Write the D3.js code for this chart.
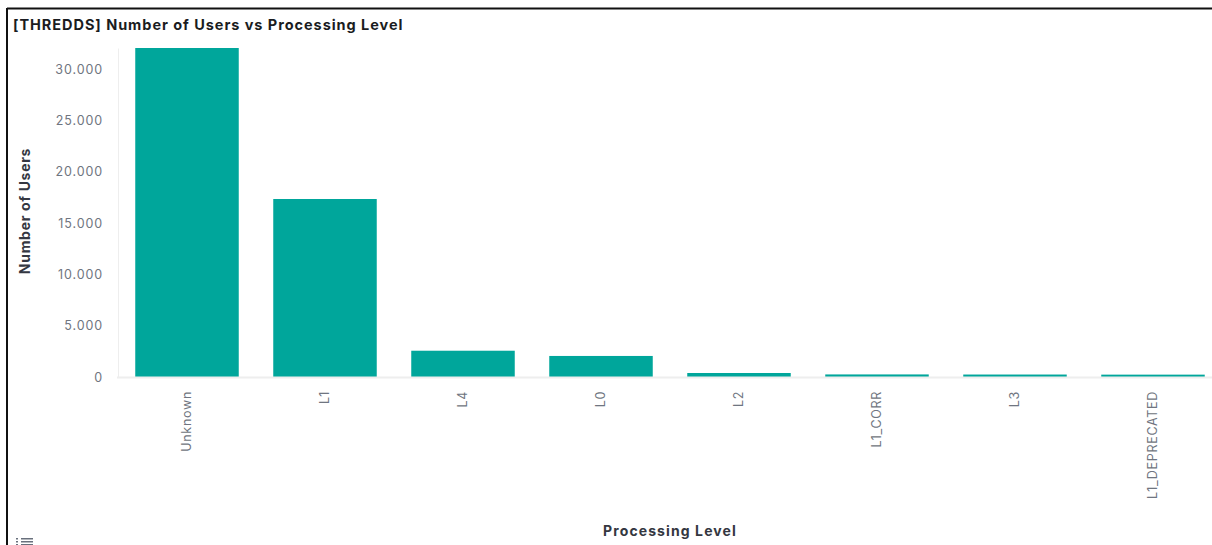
<!DOCTYPE html>
<html>
<head>
<meta charset="utf-8">
<script src="https://cdn.jsdelivr.net/npm/d3@7"></script>
<style>
  html, body { margin: 0; padding: 0; background: #fff; }
  svg { display: block; }
  text { font-family: Inter, "Noto Sans", sans-serif; }
</style>
</head>
<body>
<svg id="chart" width="1212" height="545"></svg>
<script>
const categories = ["Unknown", "L1", "L4", "L0", "L2", "L1_CORR", "L3", "L1_DEPRECATED"];
const users = [32050, 17340, 2560, 2050, 390, 250, 240, 230];
const yTicks = [0, 5000, 10000, 15000, 20000, 25000, 30000];
const title = "[THREDDS] Number of Users vs Processing Level";
const yTitle = "Number of Users";
const xTitle = "Processing Level";

const W = 1212, H = 545;
const svg = d3.select("#chart");

// panel frame
svg.append("line").attr("x1", 7).attr("x2", W).attr("y1", 8.5).attr("y2", 8.5)
  .attr("stroke", "#111").attr("stroke-width", 2);
svg.append("line").attr("x1", 7).attr("x2", 7).attr("y1", 8).attr("y2", H)
  .attr("stroke", "#111").attr("stroke-width", 2);

const x = d3.scaleBand().domain(categories).range([118, 1222])
  .paddingInner(0.25).paddingOuter(0.125);
const y = d3.scaleLinear().domain([0, d3.max(users)]).range([377, 48]);

const loc = d3.formatLocale({ decimal: ",", thousands: ".", grouping: [3], currency: ["", ""] });
const fmt = loc.format(",");

// title
svg.append("text").attr("x", 13).attr("y", 30)
  .attr("font-size", 14.5).attr("font-weight", 700).attr("fill", "#1a1c21")
  .attr("letter-spacing", 0.95)
  .text(title);

// y axis
const gy = svg.append("g").attr("transform", "translate(118,0)")
  .call(d3.axisLeft(y).tickValues(yTicks).tickFormat(fmt).tickSize(0).tickPadding(15));
gy.select(".domain").attr("stroke", "#eeeeee").attr("stroke-width", 1);
gy.selectAll("text").attr("font-size", 12.5).attr("fill", "#6f7580")
  .attr("font-family", "Inter, sans-serif").attr("letter-spacing", 0.9);

// bars
svg.append("g").selectAll("rect").data(categories).join("rect")
  .attr("x", d => x(d))
  .attr("width", x.bandwidth())
  .attr("y", (d, i) => y(users[i]))
  .attr("height", (d, i) => y(0) - y(users[i]))
  .attr("fill", "#00a69b");

// x axis
const gx = svg.append("g").attr("transform", "translate(0,377)")
  .call(d3.axisBottom(x).tickSize(0).tickPadding(0));
gx.select(".domain").attr("stroke", "#eeeeee").attr("stroke-width", 2).attr("d", "M117,0.5H1222");
gx.selectAll("text")
  .attr("font-size", 12.5).attr("fill", "#6f7580").attr("font-family", "Inter, sans-serif")
  .attr("letter-spacing", 0.7)
  .attr("text-anchor", "end")
  .attr("transform", "translate(0,14) rotate(-90)")
  .attr("y", 0).attr("x", 0).attr("dy", "0.35em");

// axis titles
svg.append("text")
  .attr("transform", `translate(30,${211}) rotate(-90)`)
  .attr("text-anchor", "middle")
  .attr("font-size", 14).attr("font-weight", 700).attr("fill", "#343741")
  .attr("letter-spacing", 0.7)
  .text(yTitle);
svg.append("text").attr("x", 670).attr("y", 536)
  .attr("text-anchor", "middle")
  .attr("font-size", 14).attr("font-weight", 700).attr("fill", "#343741")
  .attr("letter-spacing", 1.1)
  .text(xTitle);

// legend toggle icon
const ic = svg.append("g").attr("fill", "#69707d");
[538, 541, 544].forEach(yy => {
  ic.append("rect").attr("x", 16).attr("y", yy).attr("width", 2).attr("height", 1.5);
  ic.append("rect").attr("x", 21).attr("y", yy).attr("width", 12).attr("height", 1.5);
});
</script>
</body>
</html>
